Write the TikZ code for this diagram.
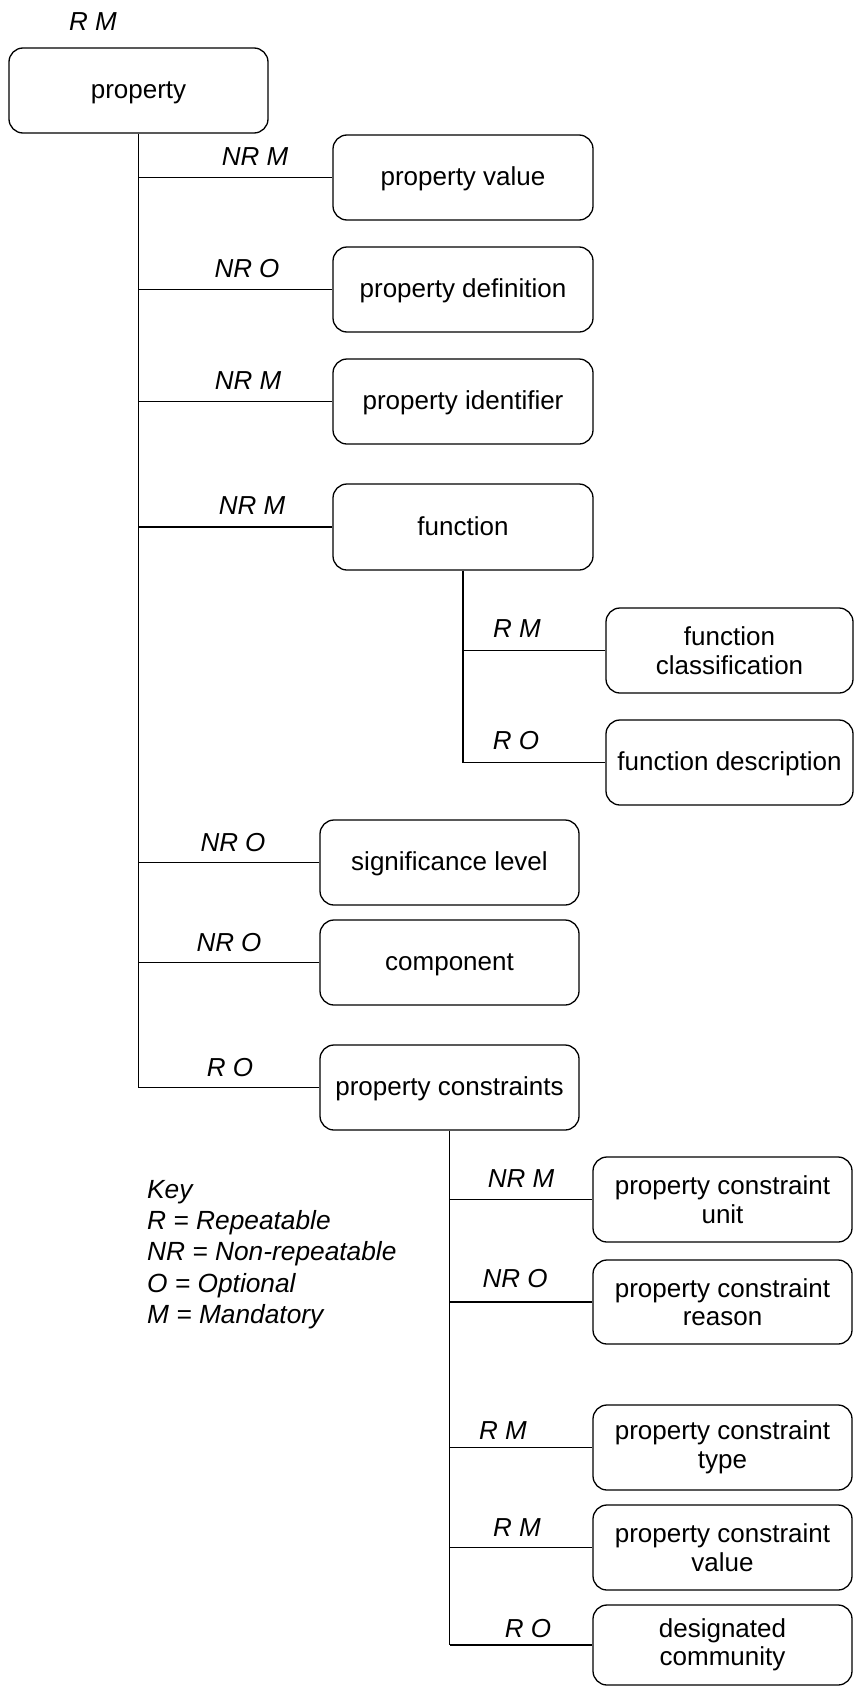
\documentclass[tikz,border=0pt]{standalone}
\usepackage{fontspec}
\setmainfont{Liberation Sans}
\begin{document}
\begin{tikzpicture}[x=1pt,y=-1pt,
  box/.style={draw, rounded corners=14pt, line width=1.3pt, align=center, inner sep=0pt,
    font=\fontsize{26}{28.5}\selectfont},
  one/.style={text height=16pt, text depth=0pt},
  lbl/.style={anchor=base, inner sep=0pt, font=\fontsize{26}{30}\selectfont\itshape},
  conn/.style={line width=1.3pt},
  trunk/.style={line width=1.9pt}]
\useasboundingbox (0,0) rectangle (855,1686);
% boxes
\newcommand{\bx}[7][]{\node[box, #1, minimum width={#5-#3}, minimum height={#6-#4}] (#2) at ({(#3+#5)/2},{(#4+#6)/2}) {#7};}
\bx[one]{prop}{9}{48}{268}{133}{property}
\bx[one]{pv}{333}{135}{593}{220}{property value}
\bx[one]{pd}{333}{247}{593}{332}{property definition}
\bx[one]{pi}{333}{359}{593}{444}{property identifier}
\bx[one]{fn}{333}{484}{593}{570}{function}
\bx{fc}{606}{608}{853}{693}{function\\classification}
\bx[one]{fd}{606}{720}{853}{805}{function description}
\bx[one]{sl}{320}{820}{579}{905}{significance level}
\bx[one]{comp}{320}{920}{579}{1005}{component}
\bx[one]{pc}{320}{1045}{579}{1130}{property constraints}
\bx{pcu}{593}{1157}{852}{1242}{property constraint\\unit}
\bx{pcr}{593}{1260}{852}{1344}{property constraint\\reason}
\bx{pct}{593}{1405}{852}{1490}{property constraint\\type}
\bx{pcv}{593}{1505}{852}{1590}{property constraint\\value}
\bx{dc}{593}{1605}{852}{1685}{designated\\community}
% labels
\node[lbl] (lprop) at (93,31) {R M};
\node[lbl] (lpv) at (255,165) {NR M};
\node[lbl] (lpd) at (247,277) {NR O};
\node[lbl] (lpi) at (248,389) {NR M};
\node[lbl] (lfn) at (252,514) {NR M};
\node[lbl] (lfc) at (517,637) {R M};
\node[lbl] (lfd) at (516,749) {R O};
\node[lbl] (lsl) at (233,851) {NR O};
\node[lbl] (lcomp) at (229,951) {NR O};
\node[lbl] (lpc) at (230,1076) {R O};
\node[lbl] (lpcu) at (521,1187) {NR M};
\node[lbl] (lpcr) at (515,1287) {NR O};
\node[lbl] (lpct) at (503,1439) {R M};
\node[lbl] (lpcv) at (517,1536) {R M};
\node[lbl] (ldc) at (528,1637) {R O};
% key
\node[anchor=north west, inner sep=0pt, align=left, font=\fontsize{26.3}{31.3}\selectfont\itshape] (key) at (147,1180)
  {Key\\R = Repeatable\\NR = Non-repeatable\\O = Optional\\M = Mandatory};
% connectors
\coordinate (t1) at (prop.south |- pc.west);
\draw[trunk] (prop.south) -- (t1);
\foreach \n in {pv,pd,pi,fn,sl,comp,pc} \draw[conn] (prop.south |- \n.west) -- (\n.west);
\coordinate (t2) at (fn.south |- fd.west);
\draw[conn] (fn.south) -- (t2);
\foreach \n in {fc,fd} \draw[conn] (fn.south |- \n.west) -- (\n.west);
\coordinate (t3) at (pc.south |- dc.west);
\draw[conn] (pc.south) -- (t3);
\foreach \n in {pcu,pcr,pct,pcv,dc} \draw[conn] (pc.south |- \n.west) -- (\n.west);
\end{tikzpicture}
\end{document}
